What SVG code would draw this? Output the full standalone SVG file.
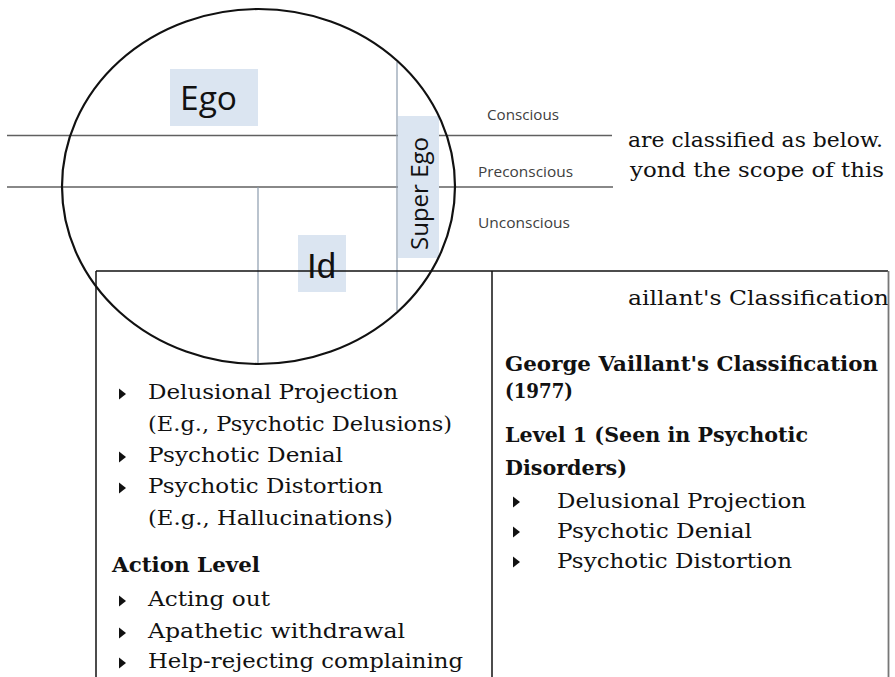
<svg xmlns="http://www.w3.org/2000/svg" width="895" height="677" viewBox="0 0 895 677">
<defs>
<style>
.serif{font-family:"DejaVu Serif","Liberation Serif",serif;font-size:21px;fill:#111}
.bold{font-weight:bold}
.layer{font-family:"Open Sans","Noto Sans",sans-serif;font-size:14px;fill:#404040}
.hline{stroke:#606060;stroke-width:1.5;fill:none}
.vline{stroke:#8c9cae;stroke-width:1.2;fill:none}
.lbl{fill:#dbe5f1}
.bullet{fill:#111}
.border{stroke:#111;stroke-width:1.5;fill:none}
</style>
<path id="tri" d="M0,-5.5 L7,0 L0,5.5 Z"/>
</defs>
<rect width="895" height="677" fill="#fff"/>

<g id="paragraph">
<text class="serif" x="628" y="147" textLength="255" lengthAdjust="spacingAndGlyphs">are classified as below.</text>
<text class="serif" x="630" y="177" textLength="254" lengthAdjust="spacingAndGlyphs">yond the scope of this</text>
</g>

<g id="left-column">
<text class="serif" x="148" y="399" textLength="250" lengthAdjust="spacingAndGlyphs">Delusional Projection</text>
<text class="serif" x="148" y="430.5" textLength="304" lengthAdjust="spacingAndGlyphs">(E.g., Psychotic Delusions)</text>
<text class="serif" x="148" y="462" textLength="195" lengthAdjust="spacingAndGlyphs">Psychotic Denial</text>
<text class="serif" x="148" y="493" textLength="235" lengthAdjust="spacingAndGlyphs">Psychotic Distortion</text>
<text class="serif" x="148" y="524.5" textLength="245" lengthAdjust="spacingAndGlyphs">(E.g., Hallucinations)</text>
<text class="serif bold" x="112" y="572" textLength="148" lengthAdjust="spacingAndGlyphs">Action Level</text>
<text class="serif" x="148" y="606" textLength="122" lengthAdjust="spacingAndGlyphs">Acting out</text>
<text class="serif" x="148" y="638" textLength="257" lengthAdjust="spacingAndGlyphs">Apathetic withdrawal</text>
<text class="serif" x="148" y="668" textLength="315" lengthAdjust="spacingAndGlyphs">Help-rejecting complaining</text>
<use href="#tri" class="bullet" x="119" y="394"/>
<use href="#tri" class="bullet" x="119" y="457"/>
<use href="#tri" class="bullet" x="119" y="488"/>
<use href="#tri" class="bullet" x="119" y="601"/>
<use href="#tri" class="bullet" x="119" y="633"/>
<use href="#tri" class="bullet" x="119" y="663"/>
</g>

<g id="right-column">
<text class="serif" x="628" y="305" textLength="261" lengthAdjust="spacingAndGlyphs">aillant's Classification</text>
<text class="serif bold" x="505" y="371" textLength="373" lengthAdjust="spacingAndGlyphs">George Vaillant's Classification</text>
<text class="serif bold" x="505" y="398" textLength="68" lengthAdjust="spacingAndGlyphs">(1977)</text>
<text class="serif bold" x="505" y="442" textLength="303" lengthAdjust="spacingAndGlyphs">Level 1 (Seen in Psychotic</text>
<text class="serif bold" x="505" y="475" textLength="122" lengthAdjust="spacingAndGlyphs">Disorders)</text>
<text class="serif" x="557" y="508" textLength="249" lengthAdjust="spacingAndGlyphs">Delusional Projection</text>
<text class="serif" x="557" y="538" textLength="195" lengthAdjust="spacingAndGlyphs">Psychotic Denial</text>
<text class="serif" x="557" y="568" textLength="235" lengthAdjust="spacingAndGlyphs">Psychotic Distortion</text>
<use href="#tri" class="bullet" x="513" y="502"/>
<use href="#tri" class="bullet" x="513" y="532"/>
<use href="#tri" class="bullet" x="513" y="562"/>
</g>

<rect x="98" y="300" width="390" height="84" fill="#fff"/>

<g id="layers">
<line class="hline" x1="7" y1="135.5" x2="612" y2="135.5"/>
<line class="hline" x1="7" y1="187" x2="613" y2="187"/>
<text class="layer" x="487" y="120" textLength="72" lengthAdjust="spacingAndGlyphs">Conscious</text>
<text class="layer" x="478" y="177" textLength="95" lengthAdjust="spacingAndGlyphs">Preconscious</text>
<text class="layer" x="478" y="228" textLength="92" lengthAdjust="spacingAndGlyphs">Unconscious</text>
<line class="vline" x1="397" y1="62" x2="397" y2="311"/>
<line class="vline" x1="258" y1="187" x2="258" y2="364"/>
</g>

<g id="ego">
<rect class="lbl" x="170" y="69" width="88" height="57"/>
<text x="180" y="110" font-family="Open Sans, Noto Sans, sans-serif" font-size="32" fill="#111" textLength="57" lengthAdjust="spacingAndGlyphs">Ego</text>
</g>

<g id="super-ego">
<rect class="lbl" x="398" y="116" width="41" height="142"/>
<text transform="translate(428,250) rotate(-90)" font-family="Open Sans, Noto Sans, sans-serif" font-size="23" fill="#111" textLength="113" lengthAdjust="spacingAndGlyphs">Super Ego</text>
</g>

<g id="id">
<rect class="lbl" x="298" y="235" width="48" height="57"/>
<text x="307" y="278" font-family="Liberation Sans, Arial, sans-serif" font-size="35" fill="#111" textLength="29" lengthAdjust="spacingAndGlyphs">Id</text>
</g>

<g id="psyche">
<ellipse cx="258.5" cy="186.5" rx="196.5" ry="177.5" fill="none" stroke="#111" stroke-width="2.2"/>
</g>

<g id="table">
<line class="border" x1="96" y1="271" x2="888" y2="271"/>
<line class="border" x1="96" y1="271" x2="96" y2="677"/>
<line class="border" x1="492" y1="271" x2="492" y2="677"/>
<line x1="888.5" y1="271" x2="888.5" y2="677" stroke="#777" stroke-width="1.8"/>
</g>
</svg>
